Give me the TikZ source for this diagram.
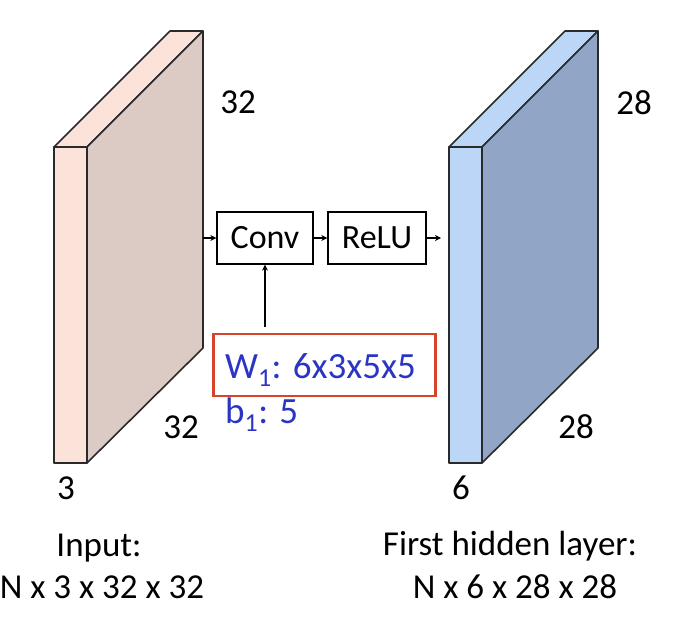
\documentclass[tikz,border=0pt]{standalone}
\usepackage{fontspec}
\setmainfont{Carlito}
\usetikzlibrary{arrows.meta}
\definecolor{pinkface}{HTML}{FBE3DA}
\definecolor{pinkside}{HTML}{DCCBC4}
\definecolor{bluefront}{HTML}{BCD6F7}
\definecolor{blueside}{HTML}{91A6C6}
\definecolor{edgegray}{HTML}{2A2A2A}
\definecolor{wblue}{HTML}{2B35C4}
\definecolor{redbox}{HTML}{D8432C}
\tikzset{
  face/.style={draw=edgegray, line width=1.6pt, line join=round},
  lbl/.style={font=\fontsize{35}{40}\selectfont, anchor=base, inner sep=0pt},
  opbox/.style={draw=black, line width=1.3pt, minimum width=96pt, minimum height=52pt, inner sep=0pt, font=\fontsize{34}{38}\selectfont},
  conn/.style={line width=1.3pt, -{Stealth[length=6pt,width=6pt]}},
  wtext/.style={text=wblue, font=\fontsize{37}{42}\selectfont, inner sep=0pt, anchor=base west},
}
\begin{document}
\begin{tikzpicture}[x=1pt,y=-1pt]
\useasboundingbox (0,0) rectangle (700,618);
% left block
\fill[pinkface] (54,147) rectangle (87,463);
\draw[face, fill=pinkface] (54,147) -- (87,147) -- (203,31) -- (170,31) -- cycle;
\draw[face, fill=pinkside] (87,147) -- (203,31) -- (203,348) -- (87,463) -- cycle;
\draw[face] (54,147) rectangle (87,463);
% right block
\draw[face, fill=bluefront] (449,147) rectangle (482,463);
\draw[face, fill=bluefront] (449,147) -- (482,147) -- (598,31) -- (565,31) -- cycle;
\draw[face, fill=blueside] (482,147) -- (598,31) -- (598,348) -- (482,463) -- cycle;
% dimension labels
\node[lbl] (l32a) at (238,113) {32};
\node[lbl] (l32b) at (181,438) {32};
\node[lbl] (l3) at (66,499) {3};
\node[lbl] (r28a) at (634,114) {28};
\node[lbl] (r28b) at (576,438) {28};
\node[lbl] (r6) at (461,499) {6};
% bottom captions
\node[lbl] (inp) at (99,556) {Input:};
\node[lbl] (inpdim) at (102,598) {N x 3 x 32 x 32};
\node[lbl] (hid) at (510,555) {First hidden layer:};
\node[lbl] (hiddim) at (515,598) {N x 6 x 28 x 28};
% ops
\node[opbox] (conv) at (265,238) {Conv};
\node[opbox, minimum width=98pt] (relu) at (377,238) {ReLU};
\coordinate (lout) at (203,238);
\coordinate (rin) at (441,238);
\draw[conn] (lout) -- (conv.west);
\draw[conn] (conv.east) -- (relu.west);
\draw[conn] (relu.east) -- (rin);
% weights
\node[draw=redbox, line width=2.6pt, minimum width=222pt, minimum height=62pt, inner sep=0pt] (w) at (324.5,365) {};
\node[wtext] (wt) at (225,378) {W\textsubscript{1}: 6x3x5x5};
\node[wtext] (b) at (225,423) {b\textsubscript{1}: 5};
\draw[conn] (w.north -| conv.south) ++(0,-6) coordinate (wtop) (wtop) -- (conv.south);
\end{tikzpicture}
\end{document}
